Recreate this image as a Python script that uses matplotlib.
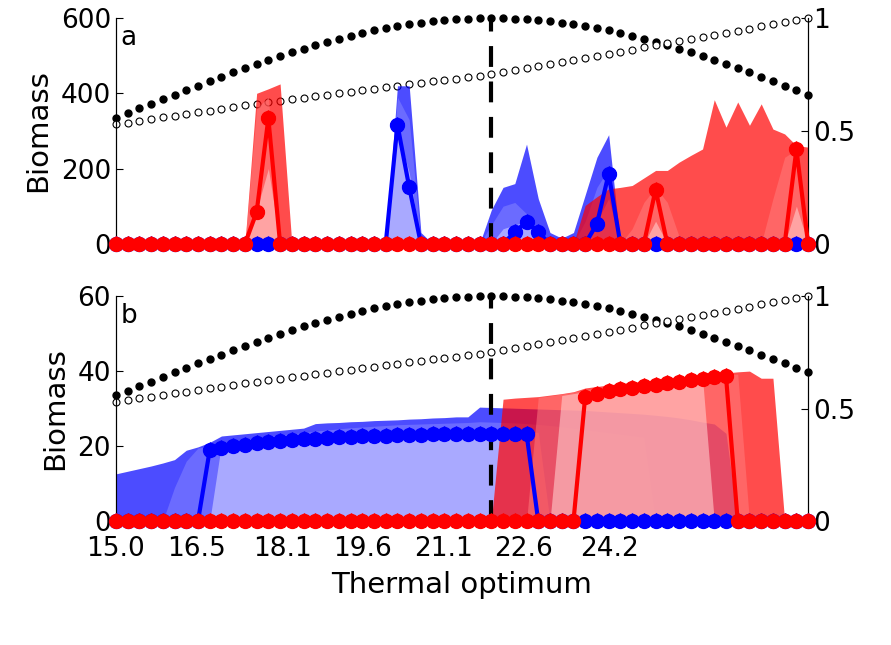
import numpy as np
import matplotlib
matplotlib.use("Agg")
import matplotlib.pyplot as plt

n = 60
x_grid = np.linspace(15.0, 27.9, n)
xtick_vals = [15.0, 16.5, 18.1, 19.6, 21.1, 22.6, 24.2]

# right axis curves (same in both panels)
dots_filled = [0.559, 0.579, 0.600, 0.620, 0.641, 0.661, 0.681, 0.701, 0.721, 0.740,
               0.760, 0.778, 0.797, 0.815, 0.832, 0.849, 0.865, 0.880, 0.895, 0.908,
               0.921, 0.933, 0.945, 0.955, 0.964, 0.973, 0.980, 0.986, 0.991, 0.995,
               0.998, 0.999, 1.000, 0.999, 0.998, 0.995, 0.991, 0.986, 0.980, 0.973,
               0.964, 0.955, 0.945, 0.933, 0.921, 0.908, 0.895, 0.880, 0.865, 0.849,
               0.832, 0.815, 0.797, 0.778, 0.760, 0.740, 0.721, 0.701, 0.681, 0.661]
dots_open = [0.530, 0.537, 0.545, 0.552, 0.560, 0.568, 0.575, 0.583, 0.590, 0.598,
             0.605, 0.613, 0.620, 0.627, 0.633, 0.640, 0.647, 0.653, 0.660, 0.667,
             0.673, 0.680, 0.687, 0.693, 0.700, 0.706, 0.713, 0.719, 0.725, 0.731,
             0.738, 0.744, 0.750, 0.759, 0.768, 0.778, 0.787, 0.796, 0.805, 0.814,
             0.824, 0.833, 0.842, 0.851, 0.860, 0.870, 0.879, 0.888, 0.898, 0.907,
             0.916, 0.926, 0.935, 0.944, 0.953, 0.963, 0.972, 0.981, 0.991, 1.000]


def series(points=None, start=None, vals=None):
    out = np.zeros(n)
    if points:
        for k, v in points.items():
            out[k] = v
    if vals is not None:
        out[start:start + len(vals)] = vals
    return out


# panel a
red_a_line = series({12: 84, 13: 334, 46: 144, 58: 251})
blue_a_line = series({24: 316, 25: 151, 34: 31, 35: 59, 36: 31, 41: 53, 42: 186})
red_a_outer = series({12: 400, 13: 412, 14: 425, 40: 102, 41: 125, 42: 146, 43: 150,
                      44: 155, 45: 175, 46: 195, 47: 195, 48: 217, 49: 235, 50: 252,
                      51: 383, 52: 310, 53: 377, 54: 315, 55: 372, 56: 305, 57: 292,
                      58: 261, 59: 257})
red_a_mid = series({12: 360, 13: 390, 44: 40, 45: 110, 46: 150, 47: 110, 48: 20,
                    56: 120, 57: 230, 58: 250})
red_a_inner = series({12: 90, 13: 200, 46: 60, 58: 100})
blue_a_outer = series({24: 420, 25: 420, 26: 30, 32: 90, 33: 150, 34: 160, 35: 265,
                       36: 120, 37: 30, 38: 15, 39: 30, 40: 130, 41: 230, 42: 290})
blue_a_mid = series({24: 390, 25: 330, 26: 10, 32: 50, 33: 100, 34: 110, 35: 80,
                     36: 40, 37: 10, 40: 60, 41: 150, 42: 200})
blue_a_inner = series({24: 300, 25: 190, 33: 40, 34: 50, 35: 60, 36: 30, 41: 60, 42: 120})

# panel b
blue_b_line = series(start=8, vals=[18.9, 19.5, 20.0, 20.4, 20.8, 21.1, 21.4, 21.6, 21.8, 22.0,
                                    22.2, 22.4, 22.5, 22.6, 22.7, 22.8, 22.9, 23.0, 23.0, 23.1,
                                    23.1, 23.2, 23.2, 23.2, 23.3, 23.3, 23.3, 23.3])
red_b_line = series(start=40, vals=[33.2, 34.0, 34.6, 35.1, 35.6, 36.0, 36.4, 36.8, 37.2, 37.6,
                                    38.0, 38.3, 38.6])
blue_b_outer = series(start=0, vals=[12.6, 13.3, 14.0, 14.7, 15.5, 16.4, 18.9, 19.8, 21.0, 22.7,
                                     23.0, 23.3, 23.6, 23.9, 24.2, 24.5, 24.8, 26.0, 26.2, 26.3,
                                     26.5, 26.6, 26.8, 26.9, 27.0, 27.2, 27.3, 27.5, 27.6, 27.8,
                                     27.8, 30.4, 30.3, 30.2, 30.1, 30.0, 29.9, 29.8, 29.7, 29.6,
                                     29.5, 29.3, 29.1, 28.9, 28.7, 28.5, 28.2, 27.9, 27.5, 27.0,
                                     26.4, 25.9, 23.4])
blue_b_mid = series(start=5, vals=[9.0, 16.0, 19.5, 20.0, 20.8, 21.3, 21.8, 22.2, 22.6, 23.0,
                                   23.3, 23.6, 24.0, 24.3, 24.6, 24.9, 25.1, 25.3, 25.5, 25.7,
                                   25.8, 25.9, 26.0, 26.1, 26.2, 26.3, 26.5, 26.4, 26.3, 26.2,
                                   26.0, 25.8, 25.5, 25.2, 24.8, 24.4, 24.0, 23.6, 23.2, 22.8,
                                   22.4])
blue_b_inner = series(start=9, vals=[20.5, 21.0, 21.4, 21.8, 22.1, 22.4, 22.6, 22.8, 23.0, 23.1,
                                     23.2, 23.3, 23.4, 23.5, 23.5, 23.6, 23.6, 23.6, 23.7, 23.7,
                                     23.7, 23.7, 23.8, 23.8, 23.8, 23.8, 23.7, 23.7])
red_b_outer = series(start=33, vals=[32.5, 32.8, 33.0, 33.2, 33.6, 34.0, 34.5, 35.5, 35.9, 36.3,
                                     36.7, 37.0, 37.3, 37.6, 37.9, 38.2, 38.5, 38.8, 39.2, 39.5,
                                     39.8, 40.0, 38.1, 38.1])
red_b_mid = series(start=36, vals=[33.0, 33.4, 33.9, 34.4, 35.0, 35.4, 35.8, 36.2, 36.6, 37.0,
                                   37.3, 37.6, 37.9, 38.2, 38.5, 38.8, 39.0, 39.2])
red_b_inner = series(start=38, vals=[33.5, 34.0, 34.5, 35.0, 35.4, 35.8, 36.2, 36.6, 37.0, 37.3,
                                     37.6, 37.9, 38.2])

plt.rcParams['font.family'] = 'DejaVu Sans'
plt.rcParams['font.size'] = 19

fig = plt.figure(figsize=(8.91, 6.45), dpi=100)
ax_a = fig.add_axes([0.130, 0.622, 0.777, 0.350])
ax_b = fig.add_axes([0.130, 0.192, 0.777, 0.349])

panels = [
    (ax_a, 'a', 600, [0, 200, 400, 600], blue_a_outer, blue_a_mid, blue_a_inner,
     red_a_outer, red_a_mid, red_a_inner, blue_a_line, red_a_line),
    (ax_b, 'b', 60, [0, 20, 40, 60], blue_b_outer, blue_b_mid, blue_b_inner,
     red_b_outer, red_b_mid, red_b_inner, blue_b_line, red_b_line),
]

peak_x = x_grid[int(np.argmax(dots_filled))]

for (ax, lab, ymax, yt, bo, bm, bi, ro, rm, ri, bl, rl) in panels:
    ax.fill_between(x_grid, 0, bo, color='#0000ff', alpha=0.7, lw=0, zorder=1)
    ax.fill_between(x_grid, 0, bm, color='#8080ff', alpha=0.6, lw=0, zorder=1)
    ax.fill_between(x_grid, 0, bi, color='#c4c4ff', alpha=0.7, lw=0, zorder=1)
    ax.fill_between(x_grid, 0, ro, color='#ff0000', alpha=0.7, lw=0, zorder=2)
    ax.fill_between(x_grid, 0, rm, color='#ff8080', alpha=0.5, lw=0, zorder=2)
    ax.fill_between(x_grid, 0, ri, color='#ffcccc', alpha=0.6, lw=0, zorder=2)
    ax.axvline(peak_x, color='black', lw=3, dashes=(5, 3.5), zorder=3)
    for yy, c in [(bl, 'blue'), (rl, 'red')]:
        ax.plot(x_grid, yy, color=c, lw=3, marker='o', ms=10, mec=c, mew=1,
                clip_on=False, zorder=5)
        ax.plot(x_grid, yy, ls='none', color=c, marker='*', ms=11,
                clip_on=False, zorder=5)
    ax.set_xlim(x_grid[0], x_grid[-1])
    ax.set_ylim(0, ymax)
    ax.set_yticks(yt)
    ax.set_ylabel('Biomass', fontsize=21, labelpad=6)
    ax.tick_params(direction='in', length=5, width=0.8, labelsize=19)
    ax.spines['top'].set_visible(False)
    ax.spines['bottom'].set_visible(False)
    ax.text(0.007, 0.97, lab, transform=ax.transAxes, ha='left', va='top', fontsize=19)
    ax.patch.set_alpha(0)

    tw = ax.twinx()
    tw.set_zorder(ax.get_zorder() - 1)
    ax.set_zorder(tw.get_zorder() + 1)
    tw.plot(x_grid, dots_filled, 'o', color='black', ms=5, clip_on=False)
    tw.plot(x_grid, dots_open, 'o', mfc='white', mec='black', mew=0.8, ms=5, clip_on=False)
    tw.set_ylim(0, 1)
    tw.set_yticks([0, 0.5, 1])
    tw.set_yticklabels(['0', '0.5', '1'])
    tw.tick_params(direction='in', length=5, width=0.8, labelsize=19)
    tw.spines['top'].set_visible(False)
    tw.spines['bottom'].set_visible(False)

ax_a.set_xticks([])
ax_b.set_xticks(xtick_vals)
ax_b.set_xticklabels(['%.1f' % v for v in xtick_vals])
ax_b.tick_params(axis='x', length=0, pad=11)
ax_b.set_xlabel('Thermal optimum', fontsize=21, labelpad=6)

fig.savefig('out.png', dpi=100)
